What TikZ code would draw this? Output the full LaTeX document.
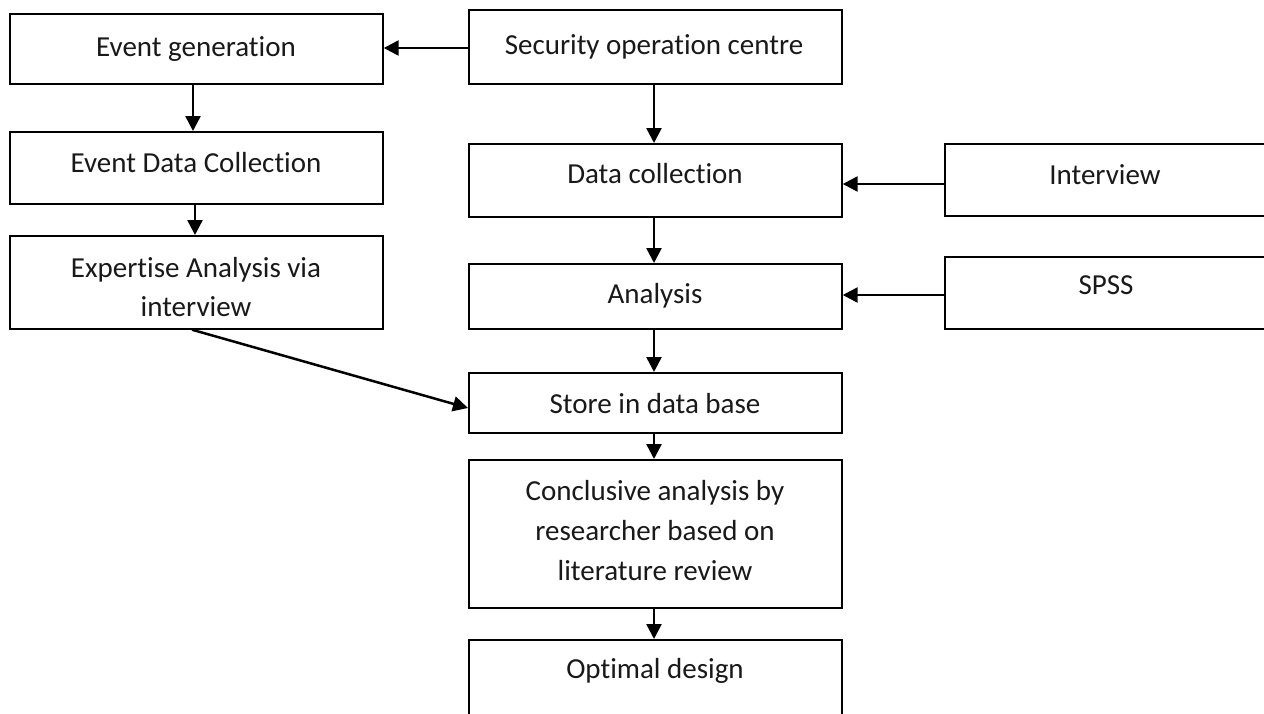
\documentclass[tikz,border=0pt]{standalone}
\usepackage{fontspec}
\setmainfont{Carlito}[Ligatures={NoCommon,NoRequired,NoContextual}]
\usetikzlibrary{arrows.meta}

\tikzset{
  box/.style={draw=black, line width=1.7pt, rectangle, inner sep=0pt, anchor=north west},
  lbl/.style={anchor=base, inner sep=0pt, font=\fontsize{29}{40}\selectfont, text=black!90},
  flow/.style={line width=2.5pt, -{Triangle[length=15pt,width=15pt]}}
}

\begin{document}
\begin{tikzpicture}[x=1pt, y=-1pt]
  \useasboundingbox (0,0) rectangle (1264,713);
  \fill[white] (0,0) rectangle (1264,713);
  \clip (0,0) rectangle (1264,713);

  % left column
  \node[box, minimum width=373pt, minimum height=70pt] (evgen) at (9,13) {};
  \node[box, minimum width=373pt, minimum height=72pt] (evdata) at (9,131) {};
  \node[box, minimum width=373pt, minimum height=93pt] (expert) at (9,235) {};

  % centre column
  \node[box, minimum width=373pt, minimum height=74pt] (soc) at (468,9) {};
  \node[box, minimum width=373pt, minimum height=73pt] (dcoll) at (468,143) {};
  \node[box, minimum width=373pt, minimum height=65pt] (anal) at (468,263) {};
  \node[box, minimum width=373pt, minimum height=60pt] (store) at (468,372) {};
  \node[box, minimum width=373pt, minimum height=148pt] (concl) at (468,459) {};
  \node[box, minimum width=373pt, minimum height=100pt] (optim) at (468,639) {};

  % right column (runs past the right edge)
  \node[box, minimum width=340pt, minimum height=72pt] (intv) at (944,143) {};
  \node[box, minimum width=340pt, minimum height=72pt] (spss) at (944,256) {};

  % labels
  \node[lbl] (tevgen) at (196,56) {Event generation};
  \node[lbl] (tevdata) at (196,172) {Event Data Collection};
  \node[lbl] (texp1) at (196,277) {Expertise Analysis via};
  \node[lbl] (texp2) at (196,316) {interview};
  \node[lbl] (tsoc) at (654,54) {Security operation centre};
  \node[lbl] (tdcoll) at (655,183) {Data collection};
  \node[lbl] (tanal) at (655,303) {Analysis};
  \node[lbl] (tstore) at (655,413) {Store in data base};
  \node[lbl] (tconc1) at (655,500) {Conclusive analysis by};
  \node[lbl] (tconc2) at (655,540) {researcher based on};
  \node[lbl] (tconc3) at (655,580) {literature review};
  \node[lbl] (toptim) at (655,678) {Optimal design};
  \node[lbl] (tintv) at (1105,184) {Interview};
  \node[lbl] (tspss) at (1106,294) {SPSS};

  % connectors
  \draw[flow] (soc.west |- 0,48) -- (evgen.east |- 0,48);
  \draw[flow] (soc.south -| 654,0) -- (dcoll.north -| 654,0);
  \draw[flow] (evgen.south -| 193,0) -- (evdata.north -| 193,0);
  \draw[flow] (evdata.south -| 195,0) -- (expert.north -| 195,0);
  \draw[flow] (intv.west |- 0,184) -- (dcoll.east |- 0,184);
  \draw[flow] (dcoll.south -| 654,0) -- (anal.north -| 654,0);
  \draw[flow] (spss.west |- 0,295) -- (anal.east |- 0,295);
  \draw[flow] (anal.south -| 654,0) -- (store.north -| 654,0);
  \draw[flow] (expert.south -| 192,0) -- (store.west |- 0,408);
  \draw[flow] (store.south -| 654,0) -- (concl.north -| 654,0);
  \draw[flow] (concl.south -| 654,0) -- (optim.north -| 654,0);
\end{tikzpicture}
\end{document}
